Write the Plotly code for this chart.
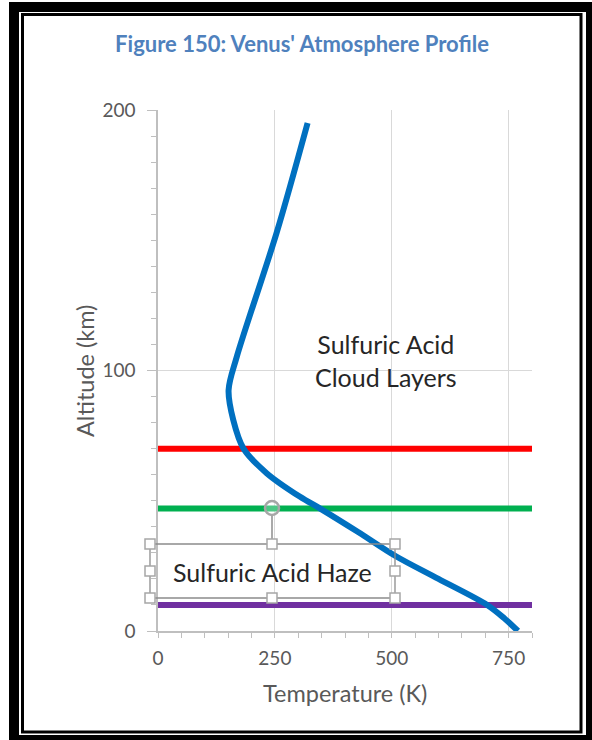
import plotly.graph_objects as go

# ---- data ----
temperature_k = [770, 740, 704, 600, 508, 428, 347, 304, 233, 183, 161, 151, 168.6, 254, 320]
altitude_km = [0, 5, 10, 20, 28.8, 38, 47, 51.5, 60.5, 70, 81, 92.5, 105.3, 153, 195]

layer_altitudes = [70, 47, 10]
layer_colors = ["#FF0000", "#00B050", "#7030A0"]
layer_x = [0, 800]

title_text = "Figure 150: Venus' Atmosphere Profile"
x_title = "Temperature (K)"
y_title = "Altitude (km)"
cloud_label = "Sulfuric Acid<br>Cloud Layers"
haze_label = "Sulfuric Acid Haze"

x_tickvals = [0, 250, 500, 750]
y_tickvals = [0, 100, 200]

# ---- layout geometry (pixels) ----
W, H = 592, 740
L, R, T, B = 158, 60, 110, 109
PW = W - L - R
PH = H - T - B


def px(xp):
    return (xp - L) / PW


def py(yp):
    return (H - B - yp) / PH


FONT = "Lato"
GRAY = "#595959"

fig = go.Figure()

for alt, col in zip(layer_altitudes, layer_colors):
    fig.add_trace(go.Scatter(x=layer_x, y=[alt, alt], mode="lines",
                             line=dict(color=col, width=6), showlegend=False,
                             hoverinfo="skip"))

fig.add_trace(go.Scatter(x=temperature_k, y=altitude_km, mode="lines",
                         line=dict(color="#0070C0", width=6, shape="spline", smoothing=0.9),
                         showlegend=False))

shapes = []
# outer frame
shapes.append(dict(type="rect", xref="paper", yref="paper", x0=px(9), x1=px(592), y0=py(2), y1=py(740),
                   fillcolor="black", line=dict(width=0), layer="below"))
shapes.append(dict(type="rect", xref="paper", yref="paper", x0=px(19), x1=px(586), y0=py(12), y1=py(735),
                   fillcolor="white", line=dict(width=0), layer="below"))
shapes.append(dict(type="rect", xref="paper", yref="paper", x0=px(22.5), x1=px(581), y0=py(14.5), y1=py(732),
                   fillcolor="rgba(0,0,0,0)", line=dict(color="black", width=3), layer="above"))

# selected text box outline + handles
bx0, bx1, by0, by1 = 150, 395, 544, 598
bxm, bym = 272, 571
shapes.append(dict(type="rect", xref="paper", yref="paper", x0=px(bx0), x1=px(bx1), y0=py(by0), y1=py(by1),
                   line=dict(color="#8c8c8c", width=1.3), fillcolor="rgba(0,0,0,0)", layer="above"))
shapes.append(dict(type="line", xref="paper", yref="paper", x0=px(bxm), x1=px(bxm), y0=py(515), y1=py(by0),
                   line=dict(color="#8c8c8c", width=1.5), layer="above"))
shapes.append(dict(type="circle", xref="paper", yref="paper", x0=px(bxm - 7), x1=px(bxm + 7),
                   y0=py(501), y1=py(515), line=dict(color="#a6a6a6", width=2.5),
                   fillcolor="rgba(255,255,255,0.3)", layer="above"))
for hx, hy in [(bx0, by0), (bxm, by0), (bx1, by0), (bx0, bym), (bx1, bym), (bx0, by1), (bxm, by1), (bx1, by1)]:
    shapes.append(dict(type="rect", xref="paper", yref="paper", x0=px(hx - 5), x1=px(hx + 5),
                       y0=py(hy - 5), y1=py(hy + 5), line=dict(color="#a6a6a6", width=1.5),
                       fillcolor="white", layer="above"))

annotations = [
    dict(text=cloud_label, xref="paper", yref="paper", x=px(386), y=py(360), showarrow=False,
         font=dict(family=FONT, size=25, color="#262626"), xanchor="center", yanchor="middle", align="center"),
    dict(text=haze_label, xref="paper", yref="paper", x=px(272), y=py(572), showarrow=False,
         font=dict(family=FONT, size=25, color="#262626"), xanchor="center", yanchor="middle"),
    dict(text=x_title, xref="paper", yref="paper", x=px(345), y=py(693), showarrow=False,
         font=dict(family=FONT, size=23.5, color=GRAY), xanchor="center", yanchor="middle"),
    dict(text=y_title, xref="paper", yref="paper", x=px(85), y=py(371), showarrow=False, textangle=-90,
         font=dict(family=FONT, size=23.5, color=GRAY), xanchor="center", yanchor="middle"),
]

fig.update_layout(
    width=W, height=H,
    margin=dict(l=L, r=R, t=T, b=B, pad=0),
    paper_bgcolor="white",
    plot_bgcolor="rgba(0,0,0,0)",
    showlegend=False,
    title=dict(text=title_text, x=(302) / W, xanchor="center", y=1 - 44 / H, yanchor="middle",
               font=dict(family=FONT, size=22, color="#4F81BD", weight="bold")),
    shapes=shapes,
    annotations=annotations,
    xaxis=dict(range=[0, 800], tickvals=x_tickvals, showgrid=True, gridcolor="#d9d9d9", gridwidth=1.3,
               zeroline=False, showline=True, linecolor="#bfbfbf", linewidth=1.5,
               ticks="outside", ticklen=5, tickcolor="#bfbfbf",
               minor=dict(dtick=50, ticks="outside", ticklen=5, tickcolor="#bfbfbf", showgrid=False),
               tickfont=dict(family=FONT, size=19, color=GRAY), ticklabelstandoff=4, fixedrange=True),
    yaxis=dict(range=[0, 200], tickvals=y_tickvals, showgrid=True, gridcolor="#d9d9d9", gridwidth=1.3,
               zeroline=False, showline=True, linecolor="#bfbfbf", linewidth=1.5,
               ticks="outside", ticklen=9, tickcolor="#bfbfbf",
               minor=dict(dtick=10, ticks="outside", ticklen=5, tickcolor="#bfbfbf", showgrid=False),
               tickfont=dict(family=FONT, size=19, color=GRAY), ticklabelstandoff=8, fixedrange=True),
)

fig.write_html("out.html", config={"displayModeBar": False},
               post_script="document.body.style.margin='0px';document.body.style.overflow='hidden';")
